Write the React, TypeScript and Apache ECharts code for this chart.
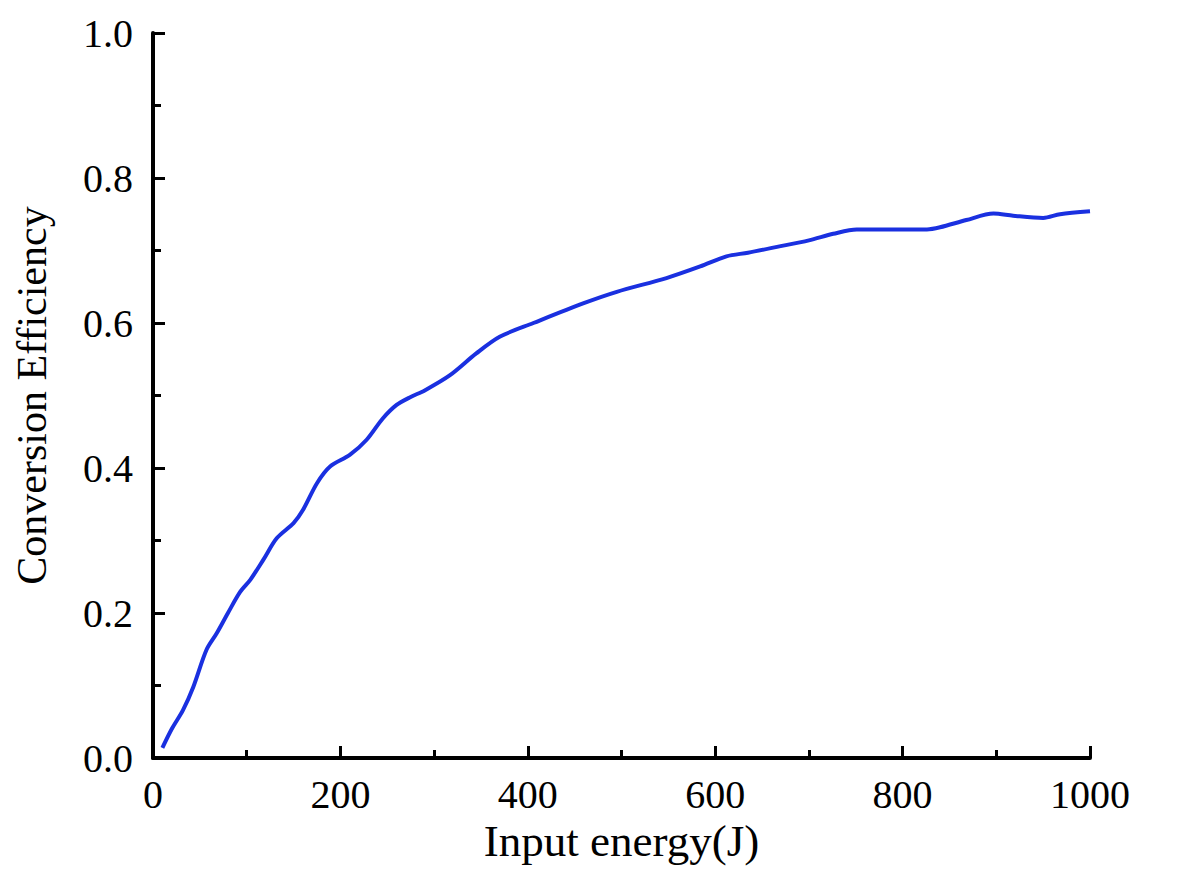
import { useEffect, useRef } from 'react';
import * as echarts from 'echarts';

const energy = [10, 20, 32, 43, 57, 68, 80, 93, 104, 118, 132, 150, 160, 175, 189, 210, 228, 245, 260, 275, 290, 317, 345, 370, 406, 459, 495, 548, 584, 612, 635, 666, 700, 726, 751, 790, 826, 840, 868, 897, 918, 950, 968, 1000];
const efficiency = [0.014, 0.04, 0.066, 0.098, 0.149, 0.172, 0.2, 0.229, 0.246, 0.274, 0.303, 0.324, 0.342, 0.379, 0.402, 0.418, 0.439, 0.468, 0.487, 0.498, 0.507, 0.528, 0.558, 0.581, 0.6, 0.627, 0.643, 0.662, 0.678, 0.692, 0.697, 0.705, 0.714, 0.723, 0.729, 0.729, 0.729, 0.732, 0.742, 0.751, 0.748, 0.745, 0.75, 0.754];

const xTitle = 'Input energy(J)';
const yTitle = 'Conversion Efficiency';

const font = '"Liberation Serif", "Times New Roman", serif';

const App = () => {
  const chartRef = useRef<HTMLDivElement>(null);

  useEffect(() => {
    document.body.style.margin = '0';
    if (!chartRef.current) return;
    const chart = echarts.init(chartRef.current, null, { renderer: 'svg' });

    const axisLine = { show: true, lineStyle: { color: '#000', width: 4 } };
    const axisTick = { show: true, inside: true, length: 12, lineStyle: { color: '#000', width: 3 } };
    const minorTick = { show: true, splitNumber: 2, length: 8, lineStyle: { color: '#000', width: 3 } };

    const option: echarts.EChartsOption = {
      animation: false,
      backgroundColor: '#fff',
      textStyle: { fontFamily: font, color: '#000' },
      grid: { left: 153, right: 88, top: 33, bottom: 115 },
      xAxis: {
        type: 'value',
        min: 0,
        max: 1000,
        interval: 200,
        name: xTitle,
        nameLocation: 'middle',
        nameGap: 60,
        nameTextStyle: { fontSize: 45, fontFamily: font, color: '#000' },
        axisLine,
        axisTick,
        minorTick,
        axisLabel: { fontSize: 40, color: '#000', margin: 16, fontFamily: font, formatter: (v: number) => String(v) },
        splitLine: { show: false },
      },
      yAxis: {
        type: 'value',
        min: 0,
        max: 1,
        interval: 0.2,
        name: yTitle,
        nameLocation: 'middle',
        nameGap: 100,
        nameRotate: 90,
        nameTextStyle: { fontSize: 42, fontFamily: font, color: '#000' },
        axisLine,
        axisTick,
        minorTick,
        axisLabel: {
          fontSize: 40,
          color: '#000',
          margin: 20,
          fontFamily: font,
          formatter: (v: number) => v.toFixed(1),
        },
        splitLine: { show: false },
      },
      series: [
        {
          type: 'line',
          data: energy.map((e, i) => [e, efficiency[i]]),
          showSymbol: false,
          smooth: 0.3,
          lineStyle: { color: '#1a30e0', width: 4 },
        },
      ],
    };

    chart.setOption(option);
    return () => {
      chart.dispose();
    };
  }, []);

  return <div ref={chartRef} style={{ width: '1178px', height: '873px' }} />;
};

export default App;
